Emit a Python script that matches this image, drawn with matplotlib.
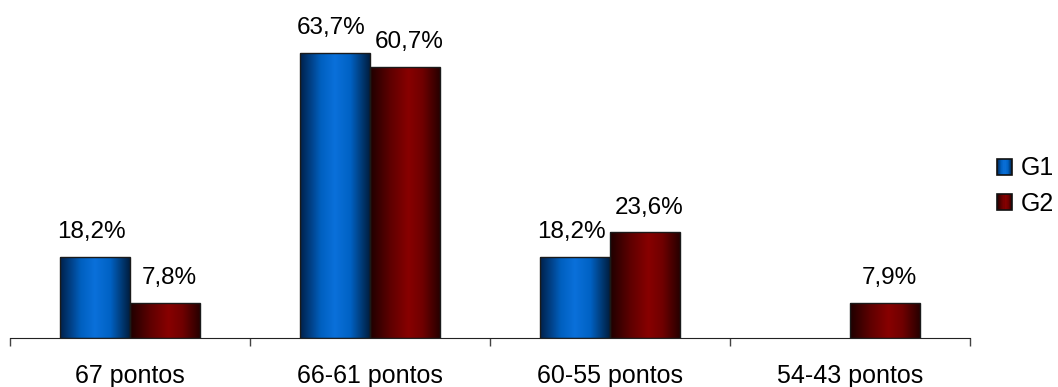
import numpy as np
import matplotlib
matplotlib.use("Agg")
import matplotlib.pyplot as plt
from matplotlib.colors import LinearSegmentedColormap
from matplotlib.legend_handler import HandlerBase
from matplotlib.patches import Rectangle

# dados
categorias = ["67 pontos", "66-61 pontos", "60-55 pontos", "54-43 pontos"]
g1 = [18.2, 63.7, 18.2, 0.0]
g2 = [7.8, 60.7, 23.6, 7.9]
series = ["G1", "G2"]

plt.rcParams['font.family'] = ['Liberation Sans', 'DejaVu Sans']
FS = 18
FS_VAL = 17.5

# gradiente horizontal tipo "cilindro" do Excel
cmap_azul = LinearSegmentedColormap.from_list(
    "azul", [(0, "#00204a"), (0.3, "#0060c0"), (0.5, "#0a70da"),
             (0.72, "#0062c4"), (1, "#001e40")])
cmap_verm = LinearSegmentedColormap.from_list(
    "verm", [(0, "#1e0000"), (0.3, "#600000"), (0.55, "#880000"),
             (0.75, "#700000"), (1, "#280000")])
cmaps = {"G1": cmap_azul, "G2": cmap_verm}

grad = np.linspace(0, 1, 256).reshape(1, -1)


def bar_gradiente(ax, x, h, w, cmap):
    if h <= 0:
        return None
    r = ax.bar(x, h, w, facecolor='none', edgecolor='#1a1a1a',
               linewidth=1, zorder=3)[0]
    im = ax.imshow(grad, cmap=cmap, aspect='auto', zorder=2,
                   extent=(x - w / 2, x + w / 2, 0, h), interpolation='bilinear')
    im.set_clip_path(r)
    return r


class HandlerGrad(HandlerBase):
    def create_artists(self, legend, orig_handle, xdescent, ydescent,
                       width, height, fontsize, trans):
        cmap = cmaps[orig_handle.get_label()]
        n = 14
        arts = []
        for i in range(n):
            c = cmap((i + 0.5) / n)
            arts.append(Rectangle((-xdescent + width * i / n, -ydescent),
                                  width / n + 0.2, height, facecolor=c,
                                  edgecolor='none', transform=trans))
        arts.append(Rectangle((-xdescent, -ydescent), width, height,
                              facecolor='none', edgecolor='#111111',
                              linewidth=1.2, transform=trans))
        return arts


fig = plt.figure(figsize=(10.58, 3.87), dpi=100)
ax = fig.add_axes([10 / 1058, 1 - 338 / 387, 960 / 1058, 313 / 387])

x = np.arange(len(categorias))
w = 0.29

for xi, v in zip(x, g1):
    if bar_gradiente(ax, xi - w / 2, v, w, cmap_azul) is not None:
        ax.annotate(f"{v:.1f}%".replace('.', ','), (xi - w / 2, v),
                    xytext=(-3, 13.5), textcoords='offset points',
                    ha='center', va='baseline', fontsize=FS_VAL)
for xi, v in zip(x, g2):
    if bar_gradiente(ax, xi + w / 2, v, w, cmap_verm) is not None:
        ax.annotate(f"{v:.1f}%".replace('.', ','), (xi + w / 2, v),
                    xytext=(3, 13.5), textcoords='offset points',
                    ha='center', va='baseline', fontsize=FS_VAL)

ax.set_xlim(-0.5, len(categorias) - 0.5)
ax.set_ylim(0, 70)

ax.set_xticks(x)
ax.set_xticklabels(categorias, fontsize=FS)
ax.set_xticks(np.arange(len(categorias) + 1) - 0.5, minor=True)
ax.tick_params(axis='x', which='major', length=0, pad=18.5)
ax.tick_params(axis='x', which='minor', length=6, width=1, color='#444444',
               direction='out')
ax.set_yticks([])
for s in ['left', 'top', 'right']:
    ax.spines[s].set_visible(False)
ax.spines['bottom'].set_color('#222222')

handles = [Rectangle((0, 0), 1, 1, label=s) for s in series]
fig.legend(handles=handles, labels=series, loc='center left',
           bbox_to_anchor=(997 / 1058, 1 - 186 / 387), frameon=False,
           fontsize=FS, handlelength=0.6, handleheight=0.6,
           handletextpad=0.35, labelspacing=0.45, borderpad=0,
           borderaxespad=0, handler_map={Rectangle: HandlerGrad()})

fig.savefig("out.png", dpi=100)
